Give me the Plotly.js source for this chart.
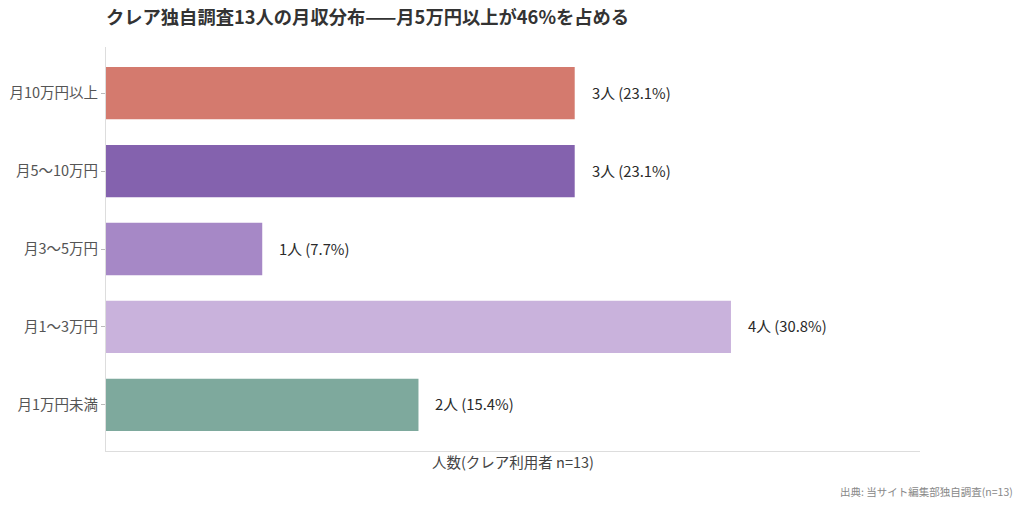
<!DOCTYPE html>
<html>
<head>
<meta charset="utf-8">
<script src="https://cdn.plot.ly/plotly-3.0.1.min.js"></script>
<style>body{margin:0;}#chart{width:1024px;height:508px;}</style>
</head>
<body>
<div id="chart"></div>
<script>
// 月収カテゴリ(上から順)
var categories = ['月10万円以上', '月5〜10万円', '月3〜5万円', '月1〜3万円', '月1万円未満'];
var counts = [3, 3, 1, 4, 2];
var total = 13;
var barColors = ['#D47A6E', '#8462AE', '#A688C6', '#C9B2DC', '#7EA99D'];

var labels = counts.map(function (c) {
  return c + '人 (' + (c / total * 100).toFixed(1) + '%)';
});

var trace = {
  type: 'bar',
  orientation: 'h',
  x: counts,
  y: categories,
  marker: { color: barColors },
  hoverinfo: 'skip'
};

var notes = [];
for (var i = 0; i < categories.length; i++) {
  notes.push({
    x: counts[i], y: categories[i], xref: 'x', yref: 'y',
    text: labels[i], showarrow: false, xanchor: 'left', xshift: 15, yshift: 1,
    font: { size: 14.8, color: '#2a2a2a' }
  });
}
notes.push({
  xref: 'paper', yref: 'paper', x: 1.1167, y: -0.1,
  xanchor: 'right', yanchor: 'middle', showarrow: false,
  text: '出典: 当サイト編集部独自調査(n=13)',
  font: { size: 10.5, color: '#888888' }
});

var layout = {
  width: 1024, height: 508,
  font: { family: '"Noto Sans CJK JP", "Noto Sans", sans-serif', color: '#555555' },
  paper_bgcolor: '#ffffff', plot_bgcolor: '#ffffff',
  margin: { l: 106, r: 104, t: 47, b: 57 },
  title: {
    text: '<b>クレア独自調査13人の月収分布——月5万円以上が46%を占める</b>',
    x: 0, xref: 'paper', xanchor: 'left', y: 0.965, yanchor: 'middle',
    font: { size: 18.3, color: '#333333' }
  },
  showlegend: false,
  bargap: 0.33,
  xaxis: {
    range: [0, 5.21], showticklabels: false, showgrid: false, zeroline: false,
    showline: true, linecolor: '#dddddd', linewidth: 1, ticks: '',
    title: { text: '人数(クレア利用者 n=13)', font: { size: 14.5, color: '#444444' }, standoff: 6 }
  },
  yaxis: {
    autorange: false, range: [4.59, -0.59], type: 'category',
    showgrid: false, zeroline: false, showline: true, linecolor: '#dddddd', linewidth: 1,
    ticks: 'outside', ticklen: 4, tickcolor: '#bbbbbb',
    tickfont: { size: 14.5, color: '#555555' }
  },
  annotations: notes
};

Plotly.newPlot('chart', [trace], layout, { displayModeBar: false, staticPlot: true });
</script>
</body>
</html>
